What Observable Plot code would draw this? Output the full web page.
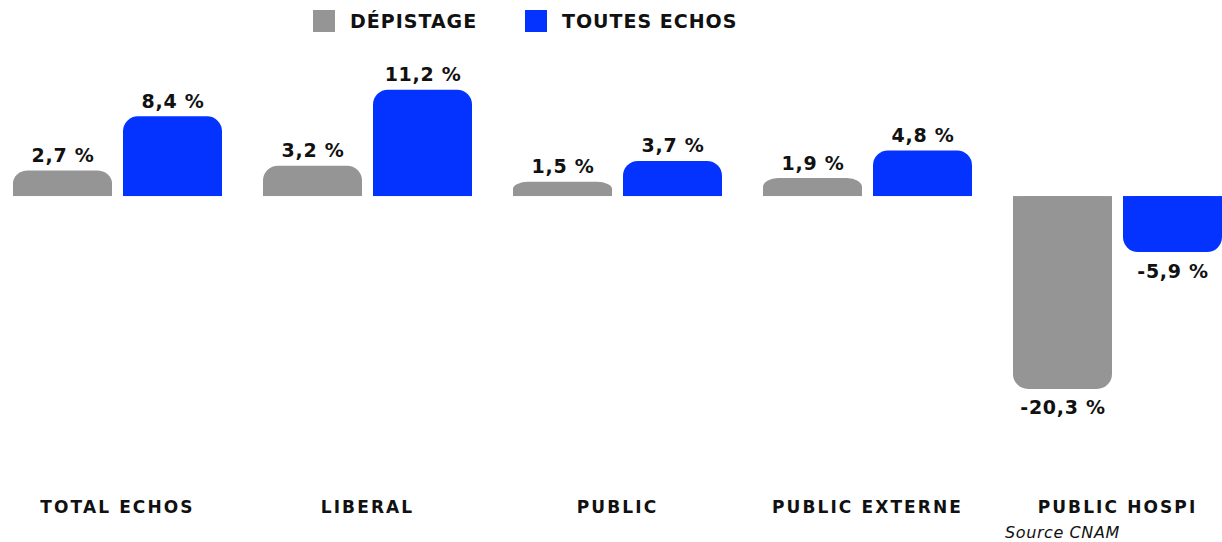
<!DOCTYPE html>
<html><head><meta charset="utf-8">
<script src="https://cdn.jsdelivr.net/npm/d3@7"></script>
<script src="https://cdn.jsdelivr.net/npm/@observablehq/plot@0.6"></script>
<style>
body{margin:0;background:#fff;font-family:"DejaVu Sans",sans-serif;}
#wrap{width:1222px;height:542px;position:relative;overflow:hidden;background:#fff}
.legend{height:45px;position:relative;font-weight:700;font-size:19px;color:#111;letter-spacing:1px}
.legend .sw{width:22px;height:22px;display:inline-block;margin-right:15px}
.legend .item{position:absolute;top:10px;display:flex;align-items:center;height:22px}
.caption{position:absolute;left:1005px;top:523px;font-style:italic;font-size:16px;color:#111;line-height:20px;letter-spacing:0.6px}
svg{display:block}
</style></head>
<body><div id="wrap"><div class="legend" id="legend"></div><div id="chart"></div><div class="caption">Source CNAM</div></div>
<script>
const categories = ["TOTAL ECHOS","LIBERAL","PUBLIC","PUBLIC EXTERNE","PUBLIC HOSPI"];
const series = ["DÉPISTAGE","TOUTES ECHOS"];
const depistage = [2.7,3.2,1.5,1.9,-20.3];
const toutesEchos = [8.4,11.2,3.7,4.8,-5.9];
const colors = ["#959595","#0433ff"];
const legendLeft = [313, 525];

const data = [];
categories.forEach((c,i)=>{
  data.push({cat:c, series:series[0], value:depistage[i]});
  data.push({cat:c, series:series[1], value:toutesEchos[i]});
});
const fmt = v => v.toFixed(1).replace(".", ",") + " %";

const leg = document.getElementById("legend");
series.forEach((s,i)=>{
  const it = document.createElement("div"); it.className="item"; it.style.left = legendLeft[i]+"px";
  const sw = document.createElement("span"); sw.className="sw"; sw.style.background=colors[i];
  const tx = document.createElement("span"); tx.textContent=s;
  it.appendChild(sw); it.appendChild(tx); leg.appendChild(it);
});

const chart = Plot.plot({
  width:1222, height:477,
  marginLeft:0, marginRight:0, marginTop:0, marginBottom:40,
  style:{fontFamily:'"DejaVu Sans", sans-serif', color:"#111", background:"transparent"},
  fx:{domain:categories, range:[-9,1243], padding:0, axis:null, label:null},
  x:{domain:series, range:[20,230], paddingInner:0.1, paddingOuter:0, axis:null},
  y:{domain:[-30.1,15.9], axis:null},
  color:{domain:series, range:colors},
  marks:[
    Plot.barY(data,{fx:"cat", x:"series", y:"value", fill:"series", rx:15}),
    Plot.barY(data,{fx:"cat", x:"series", y1:0, y2:d=>d.value/2, fill:"series"}),
    Plot.text(data.filter(d=>d.value>=0),{fx:"cat", x:"series", y:"value", text:d=>fmt(d.value), dy:-15, fontSize:19, fontWeight:700, fill:"#111"}),
    Plot.text(data.filter(d=>d.value<0),{fx:"cat", x:"series", y:"value", text:d=>fmt(d.value), dy:19, fontSize:19, fontWeight:700, fill:"#111"}),
    Plot.text(categories,{fx:d=>d, text:d=>d, frameAnchor:"bottom", dy:30, fontSize:17, fontWeight:700, fill:"#111"})
  ]
});
chart.querySelectorAll("text").forEach(t=>{
  const fs = t.closest("g").getAttribute("font-size");
  if (fs === "17") t.style.letterSpacing = "2.1px";
  else t.style.letterSpacing = "0.7px";
});
document.getElementById("chart").appendChild(chart);
</script>
</body></html>
